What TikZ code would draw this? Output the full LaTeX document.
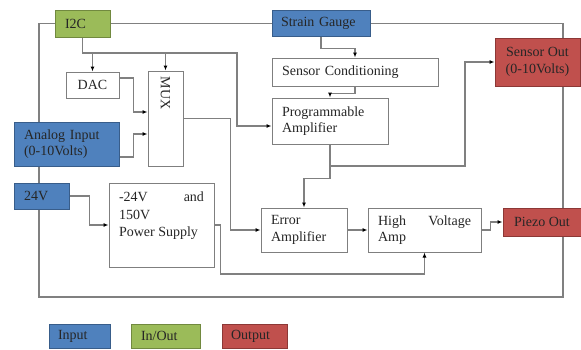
\documentclass[tikz,border=0pt]{standalone}
\usepackage{fontspec}
\setmainfont{Liberation Serif}
\usetikzlibrary{arrows.meta}
\definecolor{lgray}{HTML}{808080}
\definecolor{bgray}{HTML}{7F7F7F}
\definecolor{cblue}{HTML}{4F81BD}
\definecolor{cbluel}{HTML}{385D8A}
\definecolor{cgreen}{HTML}{9BBB59}
\definecolor{cgreenl}{HTML}{71893F}
\definecolor{cred}{HTML}{C0504D}
\definecolor{credl}{HTML}{8C3836}
\definecolor{ctext}{HTML}{262626}
\tikzset{
  base/.style={inner sep=0pt, line width=1pt, text=ctext, font=\fontsize{14}{16.5}\selectfont},
  wbox/.style={base, draw=bgray, fill=white},
  bluebox/.style={base, draw=cbluel, fill=cblue},
  greenbox/.style={base, draw=cgreenl, fill=cgreen},
  redbox/.style={base, draw=credl, fill=cred},
  conn/.style={draw=lgray, line width=1.2pt},
  arr/.style={conn, -{Latex[length=5pt,width=4pt,color=black]}},
}
\begin{document}
\begin{tikzpicture}[x=1pt,y=-1pt]
\useasboundingbox (0,0) rectangle (581,349);
% outer frame
\draw[conn] (39,23.5) rectangle (563,297);

% nodes
\node[greenbox, minimum width=55pt, minimum height=27pt, text width=35pt, align=left] (i2c) at (82.5,23.5) {I2C};
\node[bluebox, minimum width=98pt, minimum height=26pt, text width=80pt, align=left] (sg) at (321,23) {Strain Gauge};
\node[wbox, minimum width=166pt, minimum height=28pt, text width=146pt, align=left] (senscond) at (355,72) {Sensor Conditioning};
\node[wbox, minimum width=116pt, minimum height=46pt, text width=96pt, align=left] (progamp) at (330,121) {Programmable\\Amplifier};
\node[redbox, minimum width=85pt, minimum height=48pt, align=center] (sensout) at (537.5,62) {Sensor Out\\(0-10Volts)};
\node[wbox, minimum width=53pt, minimum height=26pt, align=center] (dac) at (92.5,85) {DAC};
\node[wbox, minimum width=35pt, minimum height=95pt] (mux) at (165.5,118.5) {};
\node[base, rotate=-90] (muxlabel) at (165.5,93) {MUX};
\node[bluebox, minimum width=105pt, minimum height=44pt, text width=85pt, align=left] (analog) at (66.5,144) {Analog Input\\(0-10Volts)};
\node[bluebox, minimum width=55pt, minimum height=26pt, text width=35pt, align=left] (v24) at (41.5,196) {24V};
\node[wbox, minimum width=105pt, minimum height=84pt] (psu) at (161.5,225)
  {\parbox[c][76pt][t]{85pt}{\raggedright\baselineskip=17.5pt\vspace*{5pt}-24V\hfill and\\150V\\Power Supply}};
\node[wbox, minimum width=86pt, minimum height=44pt, text width=66pt, align=left] (erramp) at (304,230) {Error\\Amplifier};
\node[wbox, minimum width=113pt, minimum height=44pt, text width=93pt, align=left] (hva) at (424.5,230) {High\hfill Voltage\\Amp};
\node[redbox, minimum width=78pt, minimum height=28pt, align=center] (piezo) at (542,222) {Piezo Out};

% legend
\node[bluebox, minimum width=61pt, minimum height=24pt, text width=43pt, align=left] (lin) at (79.5,336) {Input};
\node[greenbox, minimum width=69pt, minimum height=24pt, text width=49pt, align=left] (linout) at (165.5,336) {In/Out};
\node[redbox, minimum width=65pt, minimum height=24pt, text width=47pt, align=left] (lout) at (254.5,336) {Output};

% connectors
\coordinate (bus) at (237,53);
\draw[arr] (i2c.south) |- (bus) |- ([yshift=-5pt]progamp.west);
\draw[arr] (dac.north |- bus) -- (dac.north);
\draw[arr] (mux.north |- bus) -- (mux.north);
\draw[arr] (sg.south) -- ++(0,12) -| (senscond.north);
\draw[arr] (senscond.south) -- ++(0,7) -| (progamp.north);
\coordinate (j1) at (465,166);
\draw[arr] (progamp.south) |- (j1) |- (sensout.west);
\draw[arr] (progamp.south) -- ++(0,34) -| (erramp.north);
\draw[arr] ([yshift=7pt]dac.east) -- ++(14,0) |- ([yshift=6.5pt]mux.west);
\draw[arr] ([yshift=-13pt]analog.east) -- ++(14,0) |- ([yshift=-15.5pt]mux.west);
\draw[arr] (mux.east) -- ++(47,0) |- (erramp.west);
\draw[arr] (erramp) -- (hva);
\draw[arr] (hva.east) -- ++(9,0) |- (piezo.west);
\draw[arr] (v24.east) -- ++(20,0) |- (psu.west);
\draw[arr] (psu.east) -- ++(6,0) -- ++(0,49) -| (hva.south);
\end{tikzpicture}
\end{document}
